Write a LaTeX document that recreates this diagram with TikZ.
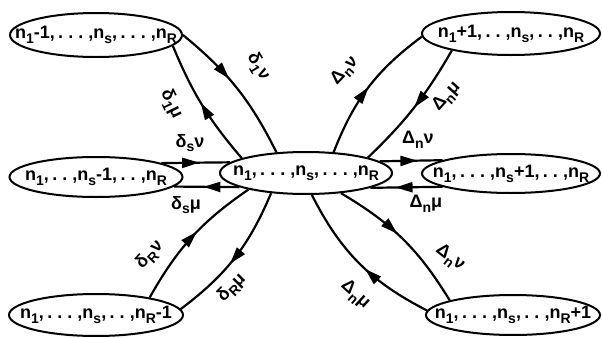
\documentclass[tikz,border=0pt]{standalone}
\usepackage{fontspec}
\setmainfont{Liberation Sans}
\usetikzlibrary{shapes.geometric,arrows.meta,decorations.markings}
\newcommand\lsb[1]{\raisebox{-0.5ex}{\fontsize{7}{8}\selectfont #1}}
\newcommand\sttxt[1]{\makebox[0pt]{\spaceskip=1.7pt\relax #1}}
\begin{document}
\begin{tikzpicture}[x=0.5pt,y=-0.5pt,
  st/.style={ellipse,draw,line width=1pt,inner sep=0pt,font=\bfseries\fontsize{9}{11}\selectfont},
  lab/.style={font=\bfseries\fontsize{9}{11}\selectfont,inner sep=0pt},
  conn/.style={line width=1.1pt,postaction={decorate},
    decoration={markings,mark=at position #1 with {\arrow{Triangle[length=8.5pt,width=5pt]}}}},
]
\useasboundingbox (0,0) rectangle (602,338);
% states
\node[st,minimum width=86pt,minimum height=22pt] (tl) at (96,35) {\sttxt{n\lsb{1}-1, . . . ,n\lsb{s}, . . . ,n\lsb{R}}};
\node[st,minimum width=89pt,minimum height=21.5pt] (tr) at (511,33.5) {\sttxt{n\lsb{1}+1, . . ,n\lsb{s}, . . ,n\lsb{R}}};
\node[st,minimum width=86.5pt,minimum height=20pt] (ml) at (96,177) {\sttxt{n\lsb{1}, . . ,n\lsb{s}-1, . . ,n\lsb{R}}};
\node[st,minimum width=86pt,minimum height=21pt] (c) at (306,173) {\sttxt{n\lsb{1}, . . . ,n\lsb{s}, . . . ,n\lsb{R}}};
\node[st,minimum width=89pt,minimum height=19.5pt] (mr) at (511,173.5) {\sttxt{n\lsb{1}, . . . ,n\lsb{s}+1, . . ,n\lsb{R}}};
\node[st,minimum width=87pt,minimum height=21pt] (bl) at (96,315) {\sttxt{n\lsb{1}, . . . ,n\lsb{s}, . . ,n\lsb{R}-1}};
\node[st,minimum width=87pt,minimum height=20pt] (br) at (513,315) {\sttxt{n\lsb{1}, . . . ,n\lsb{s}, . . ,n\lsb{R}+1}};
% connectors
\draw[conn=0.42] (tl.0) to[bend left=12] (c.145);
\draw[conn=0.52] (c.167) to[bend left=9] (tl.-8);
\draw[conn=0.55] (ml.12.8) -- (c.172.5);
\draw[conn=0.55] (c.192.3) -- (ml.-7.6);
\draw[conn=0.55] (bl.18) to[bend left=13] (c.196);
\draw[conn=0.55] (c.210) to[bend left=15] (bl.4);
\draw[conn=0.5] (c.37) to[bend left=16] (tr.182);
\draw[conn=0.5] (tr.196) to[bend left=8] (c.14);
\draw[conn=0.6] (c.9.6) -- (mr.169.6);
\draw[conn=0.65] (mr.191.9) -- (c.347.7);
\draw[conn=0.45] (c.330) to[bend left=14] (br.167);
\draw[conn=0.45] (br.177) to[bend left=18] (c.285);
% labels
\node[lab,rotate=-60] (l1) at (258,67) {δ\lsb{1}ν};
\node[lab,rotate=-64] (l2) at (171,104) {δ\lsb{1}μ};
\node[lab] (l3) at (190,143) {δ\lsb{s}ν};
\node[lab] (l4) at (186,205) {δ\lsb{s}μ};
\node[lab,rotate=47] (l5) at (150,255) {δ\lsb{R}ν};
\node[lab,rotate=45] (l6) at (232,288) {δ\lsb{R}μ};
\node[lab,rotate=47] (l7) at (345,71) {Δ\lsb{n}ν};
\node[lab,rotate=48] (l8) at (447,97) {Δ\lsb{n}μ};
\node[lab] (l9) at (418,140) {Δ\lsb{n}ν};
\node[lab] (l10) at (426,204) {Δ\lsb{n}μ};
\node[lab,rotate=-38] (l11) at (450,258) {Δ\lsb{n}ν};
\node[lab,rotate=-42] (l12) at (355,295) {Δ\lsb{n}μ};
\end{tikzpicture}
\end{document}
